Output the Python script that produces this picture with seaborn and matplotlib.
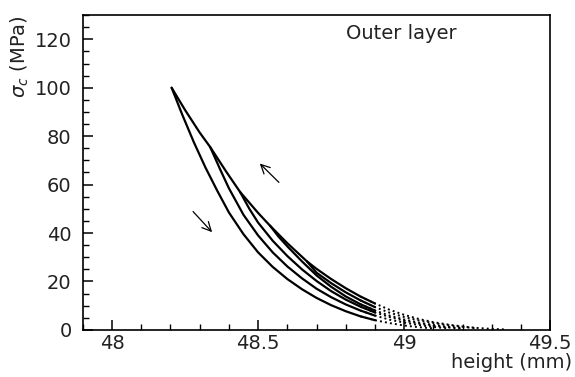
import matplotlib
matplotlib.use('Agg')
import matplotlib.pyplot as plt
from matplotlib.ticker import MultipleLocator
import pandas as pd
import seaborn as sns

# loading envelope (upper curve)
h_load = [48.204, 48.25, 48.30, 48.336, 48.39, 48.438, 48.50, 48.541, 48.60, 48.667,
          48.70, 48.75, 48.80, 48.85, 48.90, 48.95, 49.00, 49.05, 49.10, 49.15,
          49.20, 49.25, 49.30, 49.35]
s_load = [100.0, 90.8, 81.5, 75.5, 65.5, 57.0, 48.3, 43.0, 35.8, 28.3,
          25.2, 21.0, 17.2, 13.8, 10.9, 8.3, 6.2, 4.5, 3.2, 2.2,
          1.4, 0.8, 0.4, 0.15]

# unloading curves, starting from the kinks on the envelope
h_un0 = [48.204, 48.24, 48.28, 48.32, 48.36, 48.40, 48.45, 48.50, 48.55, 48.60,
         48.65, 48.70, 48.75, 48.80, 48.85, 48.90, 48.95, 49.00, 49.05, 49.10]
s_un0 = [100.0, 89.0, 77.5, 67.0, 57.5, 48.5, 39.5, 32.0, 26.0, 21.0,
         16.8, 13.2, 10.2, 7.7, 5.6, 4.0, 2.8, 1.8, 1.1, 0.6]

h_un1 = [48.336, 48.37, 48.40, 48.45, 48.50, 48.55, 48.60, 48.65, 48.70, 48.75,
         48.80, 48.85, 48.90, 48.95, 49.00, 49.05, 49.10, 49.15]
s_un1 = [75.5, 66.3, 58.5, 47.5, 39.0, 32.0, 26.2, 21.3, 17.0, 13.5,
         10.5, 8.0, 5.9, 4.2, 3.0, 2.0, 1.2, 0.6]

h_un2 = [48.438, 48.47, 48.50, 48.55, 48.60, 48.65, 48.70, 48.75, 48.80, 48.85,
         48.90, 48.95, 49.00, 49.05, 49.10, 49.15, 49.20]
s_un2 = [57.0, 50.0, 44.3, 36.8, 30.5, 25.0, 20.2, 16.0, 12.5, 9.6,
         7.2, 5.3, 3.8, 2.6, 1.7, 1.0, 0.5]

h_un3 = [48.541, 48.57, 48.60, 48.65, 48.70, 48.75, 48.80, 48.85, 48.90, 48.95,
         49.00, 49.05, 49.10, 49.15, 49.20]
s_un3 = [43.0, 38.5, 34.5, 28.3, 22.5, 17.8, 13.8, 10.6, 8.0, 5.9,
         4.3, 3.0, 2.0, 1.2, 0.7]

h_un4 = [48.667, 48.70, 48.75, 48.80, 48.85, 48.90, 48.95, 49.00, 49.05, 49.10,
         49.15, 49.20, 49.25]
s_un4 = [28.3, 23.6, 19.3, 15.5, 12.2, 9.4, 7.1, 5.3, 3.9, 2.8,
         1.9, 1.2, 0.6]

x_ticks = [48, 48.5, 49, 49.5]
x_tick_labels = ['48', '48.5', '49', '49.5']
y_ticks = [0, 20, 40, 60, 80, 100, 120]

# arrows (tail, head) in data units
arrow_up = [(48.578, 60.1), (48.499, 69.5)]
arrow_down = [(48.271, 49.7), (48.349, 39.5)]

curves = {'load': (h_load, s_load), 'un0': (h_un0, s_un0), 'un1': (h_un1, s_un1),
          'un2': (h_un2, s_un2), 'un3': (h_un3, s_un3), 'un4': (h_un4, s_un4)}
rows = []
for name, (hh, ss) in curves.items():
    for h, s in zip(hh, ss):
        rows.append({'curve': name, 'height': h, 'stress': s})
df = pd.DataFrame(rows)

sns.set_style('ticks')
plt.rcParams['font.family'] = ['DejaVu Sans']
plt.rcParams['mathtext.fontset'] = 'dejavusans'

fig = plt.figure(figsize=(5.75, 3.77), dpi=100)
ax = fig.add_axes([0.144, 0.125, 0.813, 0.835])

# solid where the samples are dense, dotted tail near zero stress
cut = 48.9
solid = df[df['height'] <= cut]
dots = df[df['height'] >= cut - 0.05]
sns.lineplot(data=solid, x='height', y='stress', units='curve', estimator=None,
             color='black', lw=1.6, ax=ax)
sns.lineplot(data=dots, x='height', y='stress', units='curve', estimator=None,
             color='black', lw=1.4, ls=(0, (1, 1.6)), ax=ax)

for tail, head in (arrow_up, arrow_down):
    ax.annotate('', xy=head, xytext=tail,
                arrowprops=dict(arrowstyle='->', lw=0.9, color='black',
                                mutation_scale=16))

ax.set_xlim(47.9, 49.5)
ax.set_ylim(0, 130)
ax.set_xticks(x_ticks)
ax.set_xticklabels(x_tick_labels)
ax.set_yticks(y_ticks)
ax.xaxis.set_minor_locator(MultipleLocator(0.1))
ax.yaxis.set_minor_locator(MultipleLocator(5))
ax.tick_params(which='both', direction='in', top=False, right=False,
               colors='black', labelsize=14, labelcolor='#222222')
ax.tick_params(which='major', length=7, width=1.1)
ax.tick_params(which='minor', length=4, width=1.0)
ax.tick_params(axis='y', pad=8)
ax.tick_params(axis='x', pad=3)
for sp in ax.spines.values():
    sp.set_visible(True)
    sp.set_color('black')
    sp.set_linewidth(1.2)

ax.set_xlabel('height (mm)', fontsize=14, color='#222222', loc='right')
ax.xaxis.set_label_coords(1.047, -0.072)
ax.set_ylabel(r'$\sigma_c$ (MPa)', fontsize=14, color='#222222', loc='top')
ax.yaxis.set_label_coords(-0.11, 1.0)

ax.text(0.563, 0.943, 'Outer layer', transform=ax.transAxes, fontsize=14,
        color='#222222', ha='left', va='center')

fig.savefig('out.png', dpi=100)
